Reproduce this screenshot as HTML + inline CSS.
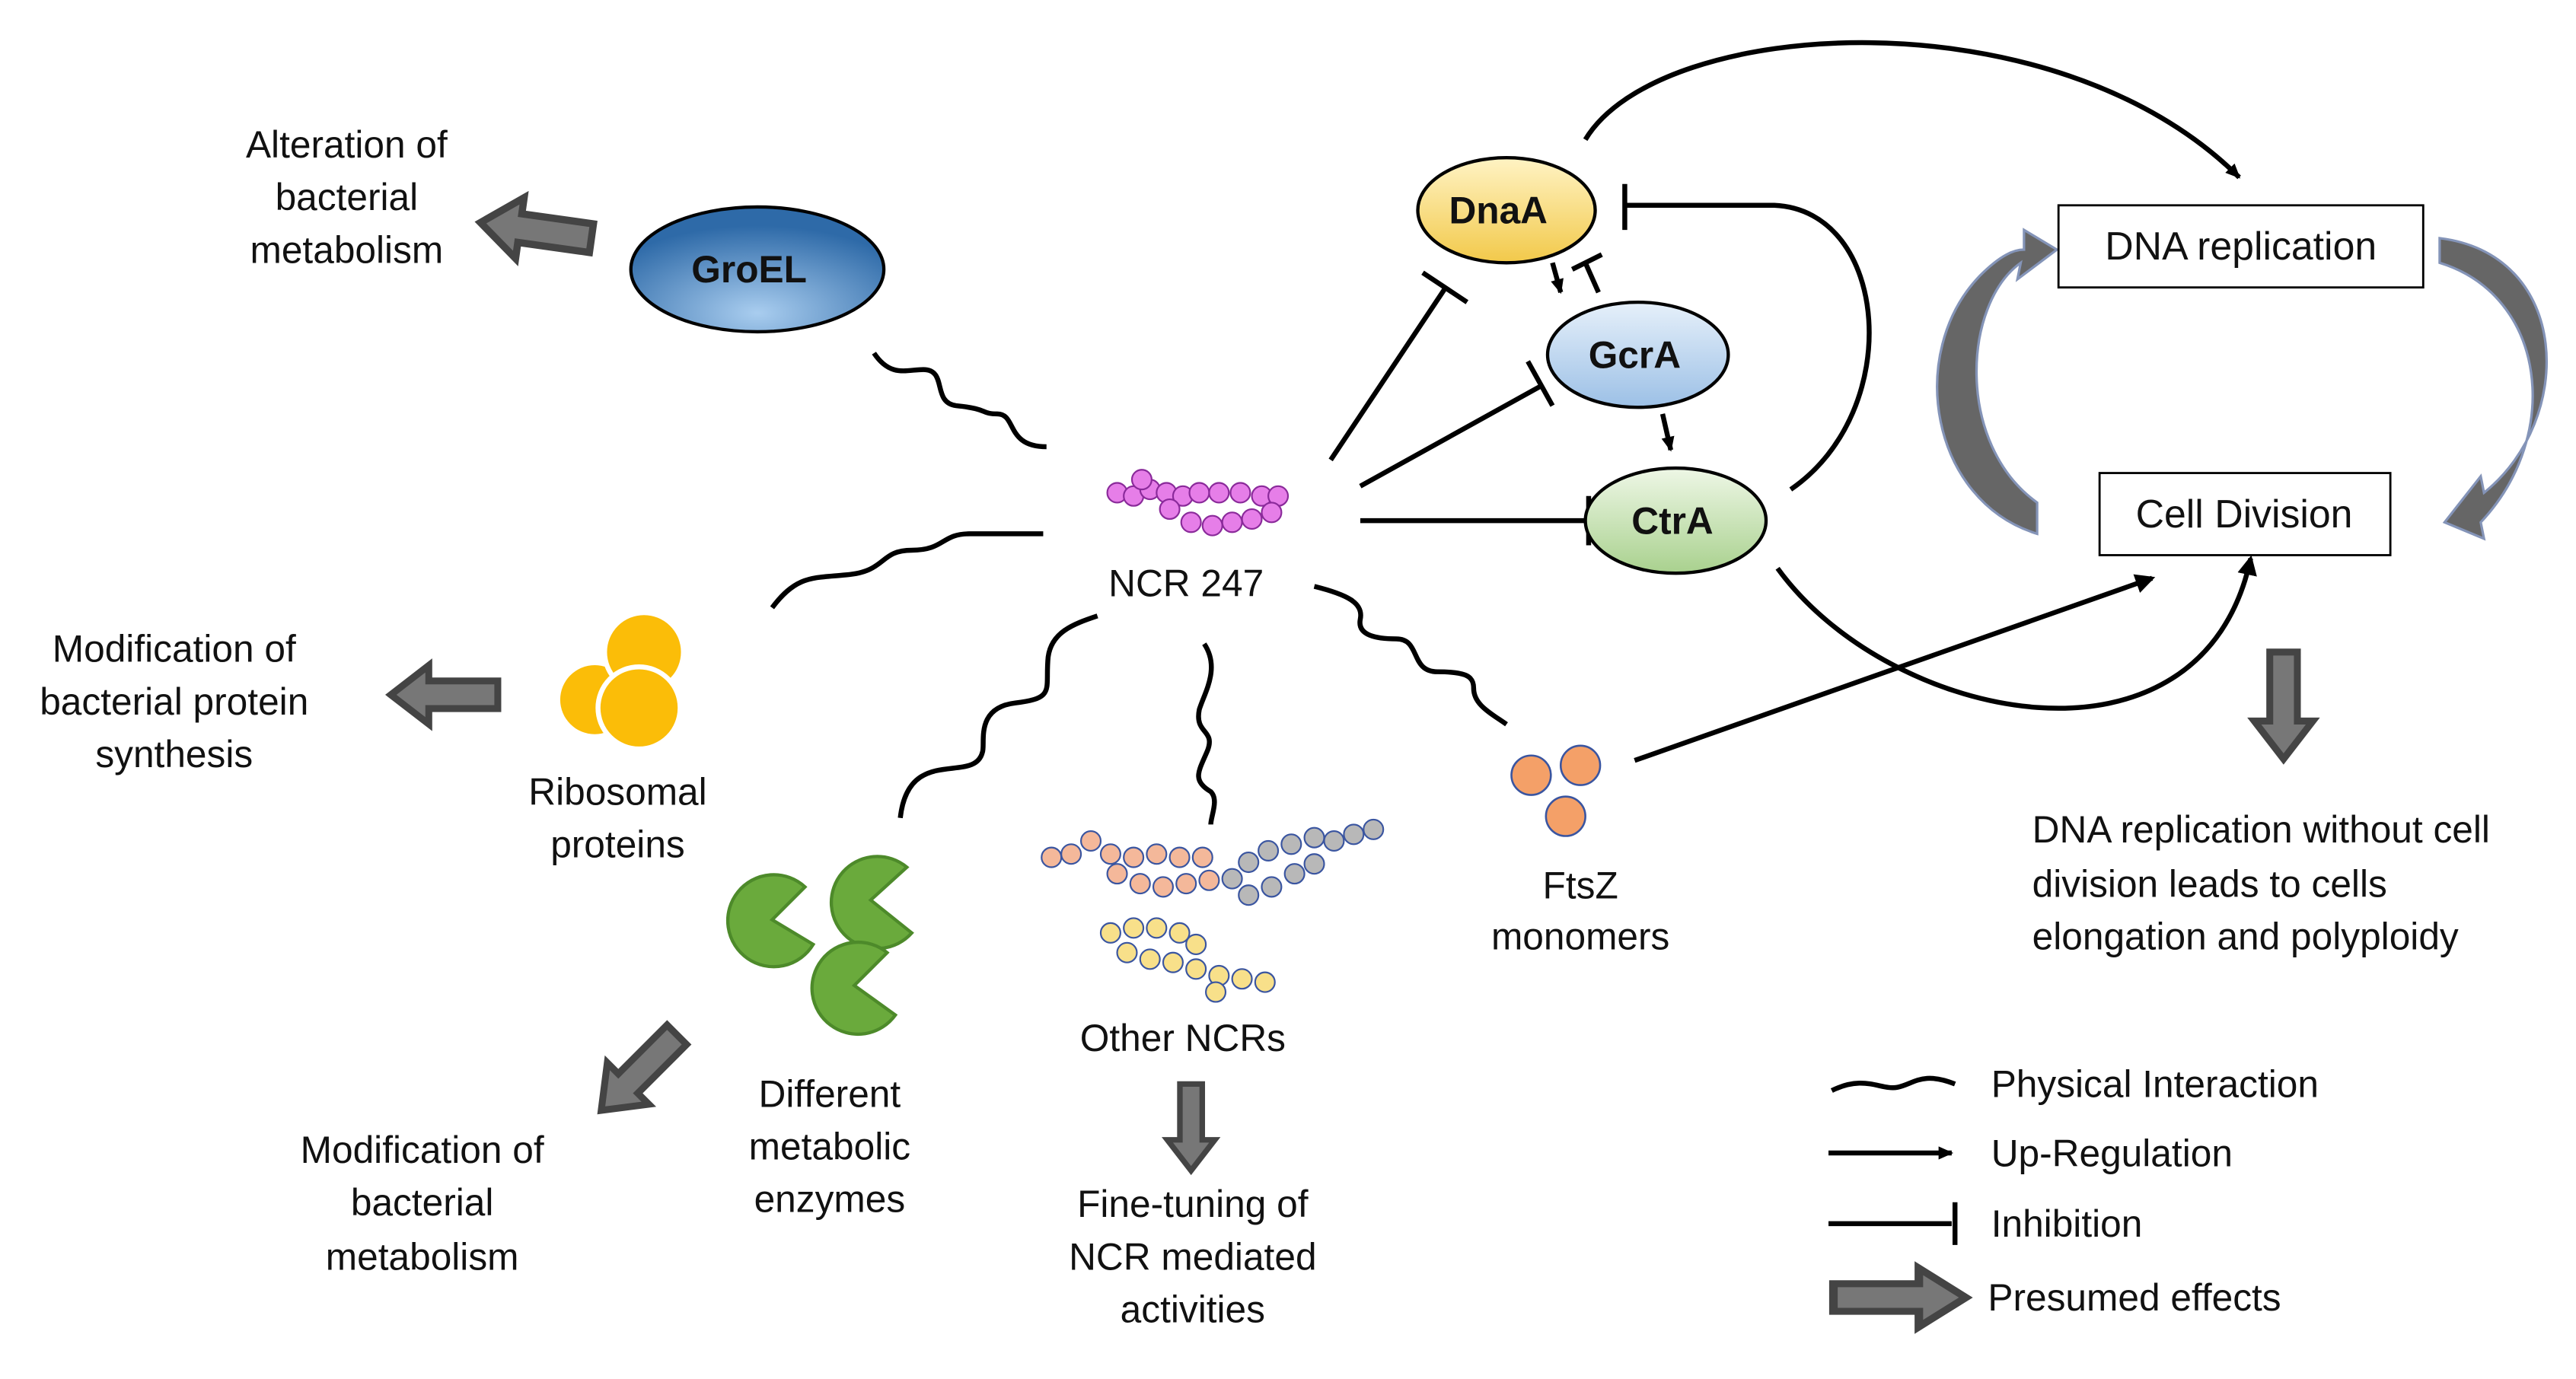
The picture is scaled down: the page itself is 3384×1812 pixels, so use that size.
<!DOCTYPE html>
<html><head><meta charset="utf-8"><style>
html,body{margin:0;padding:0;background:#fff;}
svg{display:block}
text{font-family:"Liberation Sans",sans-serif;font-size:23px;fill:#111;}
.b{font-weight:bold;font-size:23px}
</style></head><body>
<svg width="3384" height="1812" viewBox="0 0 1568 839.6" xmlns="http://www.w3.org/2000/svg">
<defs>
<radialGradient id="gb" cx="50%" cy="85%" r="70%"><stop offset="0" stop-color="#a9cdef"/><stop offset="1" stop-color="#2e6aa8"/></radialGradient>
<linearGradient id="gy" x1="0" y1="0" x2="0" y2="1"><stop offset="0" stop-color="#fff3c4"/><stop offset="1" stop-color="#f2c94a"/></linearGradient>
<linearGradient id="gc" x1="0" y1="0" x2="0" y2="1"><stop offset="0" stop-color="#e6f0fa"/><stop offset="1" stop-color="#9cc0e6"/></linearGradient>
<linearGradient id="gg" x1="0" y1="0" x2="0" y2="1"><stop offset="0" stop-color="#eef7e6"/><stop offset="1" stop-color="#a9d18e"/></linearGradient>
<marker id="ah" markerWidth="10" markerHeight="10" refX="8" refY="5" orient="auto" markerUnits="userSpaceOnUse"><path d="M0,1 L9,5 L0,9 z" fill="#000"/></marker>
<marker id="ahb" markerWidth="14" markerHeight="14" refX="10" refY="7" orient="auto" markerUnits="userSpaceOnUse"><path d="M0,1 L12,7 L0,13 z" fill="#000"/></marker>
<g id="fat"><path d="M0,-8 L40,-8 L40,-17 L62,0 L40,17 L40,8 L0,8 z" fill="#777" stroke="#444" stroke-width="4"/></g>
</defs>
<g fill="none" stroke="#000" stroke-width="3">
<path d="M532,215 c10,15 20,10 30,10 c15,0 5,20 20,22 c20,2 15,5 25,5 c12,0 5,20 30,20"/>
<path d="M470,370 c15,-20 25,-18 45,-20 c25,-2 20,-15 40,-15 c20,0 18,-10 35,-10 c18,0 35,0 45,0"/>
<path d="M668,375 c-15,5 -28,10 -30,25 c-2,20 5,25 -20,28 c-25,3 -18,25 -20,30 c-5,20 -45,-5 -50,40"/>
<path d="M733,392 c10,15 0,30 -3,40 c-3,15 10,12 5,25 c-5,12 -10,18 2,25 c5,5 0,15 0,20"/>
<path d="M800,357 c20,5 30,10 28,20 c-2,10 10,12 22,12 c15,0 8,20 25,20 c18,0 22,3 22,10 c0,10 10,15 20,22"/>
<path d="M1115,664 c20,-10 30,0 40,-2 c10,-2 15,-10 35,-2"/>
<path d="M810,280 L880,175 M866,166 L893,184"/>
<path d="M828,296 L938,235 M930,220 L945,247"/>
<path d="M828,317 L965,317 M967,302 L967,332"/>
<path d="M973,178 L965,160 M957,164 L975,155"/>
<path d="M1090,298 C1160,250 1150,128 1080,125 L990,125 M989,112 L989,140"/>
<path d="M945,160 L950,178" marker-end="url(#ah)"/>
<path d="M1012,252 L1017,274" marker-end="url(#ah)"/>
<path d="M965,85 C1010,10 1250,-5 1363,108" marker-end="url(#ah)"/>
<path d="M1082,346 C1150,440 1340,480 1370,340" marker-end="url(#ahb)"/>
<path d="M995,463 L1310,352" marker-end="url(#ahb)"/>
<path d="M1113,702 L1188,702" marker-end="url(#ah)"/>
<path d="M1113,745 L1188,745 M1190,732 L1190,758"/>
</g>
<use href="#fat" transform="translate(360,145) rotate(188) scale(1.1)"/>
<use href="#fat" transform="translate(303,423) rotate(180) scale(1.05)"/>
<use href="#fat" transform="translate(412,630) rotate(135) scale(1.05)"/>
<use href="#fat" transform="translate(725,660) rotate(90) scale(0.85)"/>
<use href="#fat" transform="translate(1390,397) rotate(90) scale(1.05)"/>
<use href="#fat" transform="translate(1116,790) scale(1.3,1.05)"/>
<path d="M1240,325 C1175,305 1160,215 1205,168 C1218,155 1226,152 1232,152 L1232,140 L1252,152 L1228,170 L1230,160 C1195,185 1190,270 1240,306 z" fill="#666" stroke="#8494b8" stroke-width="1.5"/>
<path d="M1485,145 C1565,155 1568,255 1512,300 L1510,290 L1488,318 L1512,328 L1510,318 C1560,265 1550,180 1485,160 z" fill="#666" stroke="#8494b8" stroke-width="1.5"/>
<ellipse cx="461" cy="164" rx="77" ry="38" fill="url(#gb)" stroke="#000" stroke-width="2"/>
<text x="456" y="172" class="b" text-anchor="middle">GroEL</text>
<ellipse cx="917" cy="128" rx="54" ry="32" fill="url(#gy)" stroke="#000" stroke-width="2"/>
<text x="912" y="136" class="b" text-anchor="middle">DnaA</text>
<ellipse cx="997" cy="216" rx="55" ry="32" fill="url(#gc)" stroke="#000" stroke-width="2"/>
<text x="995" y="224" class="b" text-anchor="middle">GcrA</text>
<ellipse cx="1020" cy="317" rx="55" ry="32" fill="url(#gg)" stroke="#000" stroke-width="2"/>
<text x="1018" y="325" class="b" text-anchor="middle">CtrA</text>
<rect x="1253" y="125" width="222" height="50" fill="#fff" stroke="#000" stroke-width="1.3"/>
<text x="1364" y="158" text-anchor="middle" style="font-size:24px">DNA replication</text>
<rect x="1278" y="288" width="177" height="50" fill="#fff" stroke="#000" stroke-width="1.3"/>
<text x="1366" y="321" text-anchor="middle" style="font-size:24px">Cell Division</text>
<g fill="#e67ee8" stroke="#8a2a9a" stroke-width="1">
<circle cx="680" cy="300" r="6"/><circle cx="690" cy="302" r="6"/><circle cx="700" cy="298" r="6"/><circle cx="710" cy="300" r="6"/><circle cx="720" cy="302" r="6"/><circle cx="730" cy="300" r="6"/><circle cx="742" cy="300" r="6"/><circle cx="755" cy="300" r="6"/><circle cx="768" cy="302" r="6"/><circle cx="778" cy="302" r="6"/><circle cx="695" cy="292" r="6"/><circle cx="712" cy="310" r="6"/><circle cx="725" cy="318" r="6"/><circle cx="738" cy="320" r="6"/><circle cx="750" cy="318" r="6"/><circle cx="762" cy="316" r="6"/><circle cx="774" cy="312" r="6"/>
</g>
<text x="722" y="363" text-anchor="middle">NCR 247</text>
<circle cx="362" cy="426" r="21" fill="#fbbd08"/><circle cx="392" cy="397" r="24" fill="#fbbd08" stroke="#fff" stroke-width="3"/><circle cx="389" cy="431" r="25" fill="#fbbd08" stroke="#fff" stroke-width="3"/>
<g fill="#6aaa3c" stroke="#4d8a2a" stroke-width="2">
<path d="M470,560 L495,575 A28,28 0 1 1 490,540 z"/>
<path d="M530,548 L555,568 A28,28 0 1 1 552,528 z"/>
<path d="M520,600 L545,618 A28,28 0 1 1 540,580 z"/>
</g>
<g stroke="#3a55a0" stroke-width="1">
<g fill="#f4b89a"><circle cx="640" cy="522" r="6"/><circle cx="652" cy="520" r="6"/><circle cx="664" cy="512" r="6"/><circle cx="676" cy="520" r="6"/><circle cx="690" cy="522" r="6"/><circle cx="704" cy="520" r="6"/><circle cx="718" cy="522" r="6"/><circle cx="732" cy="522" r="6"/><circle cx="680" cy="532" r="6"/><circle cx="694" cy="538" r="6"/><circle cx="708" cy="540" r="6"/><circle cx="722" cy="538" r="6"/><circle cx="736" cy="536" r="6"/></g>
<g fill="#b8b8b8"><circle cx="750" cy="535" r="6"/><circle cx="760" cy="525" r="6"/><circle cx="772" cy="518" r="6"/><circle cx="786" cy="514" r="6"/><circle cx="800" cy="510" r="6"/><circle cx="812" cy="512" r="6"/><circle cx="824" cy="508" r="6"/><circle cx="836" cy="505" r="6"/><circle cx="760" cy="545" r="6"/><circle cx="774" cy="540" r="6"/><circle cx="788" cy="532" r="6"/><circle cx="800" cy="526" r="6"/></g>
<g fill="#f8e08a"><circle cx="676" cy="568" r="6"/><circle cx="690" cy="565" r="6"/><circle cx="704" cy="565" r="6"/><circle cx="718" cy="568" r="6"/><circle cx="728" cy="575" r="6"/><circle cx="686" cy="580" r="6"/><circle cx="700" cy="584" r="6"/><circle cx="714" cy="586" r="6"/><circle cx="728" cy="590" r="6"/><circle cx="742" cy="594" r="6"/><circle cx="756" cy="596" r="6"/><circle cx="770" cy="598" r="6"/><circle cx="740" cy="604" r="6"/></g>
</g>
<g fill="#f4a068" stroke="#3a55a0" stroke-width="1.2"><circle cx="932" cy="472" r="12"/><circle cx="962" cy="466" r="12"/><circle cx="953" cy="497" r="12"/></g>
<g text-anchor="middle">
<text x="211" y="96">Alteration of</text><text x="211" y="128">bacterial</text><text x="211" y="160">metabolism</text>
<text x="106" y="403">Modification of</text><text x="106" y="435">bacterial protein</text><text x="106" y="467">synthesis</text>
<text x="376" y="490">Ribosomal</text><text x="376" y="522">proteins</text>
<text x="505" y="674">Different</text><text x="505" y="706">metabolic</text><text x="505" y="738">enzymes</text>
<text x="257" y="708">Modification of</text><text x="257" y="740">bacterial</text><text x="257" y="773">metabolism</text>
<text x="720" y="640">Other NCRs</text>
<text x="726" y="741">Fine-tuning of</text><text x="726" y="773">NCR mediated</text><text x="726" y="805">activities</text>
<text x="962" y="547">FtsZ</text><text x="962" y="578">monomers</text>
</g>
<text x="1237" y="513">DNA replication without cell</text>
<text x="1237" y="546">division leads to cells</text>
<text x="1237" y="578">elongation and polyploidy</text>
<text x="1212" y="668">Physical Interaction</text>
<text x="1212" y="710">Up-Regulation</text>
<text x="1212" y="753">Inhibition</text>
<text x="1210" y="798">Presumed effects</text>
</svg>
</body></html>
